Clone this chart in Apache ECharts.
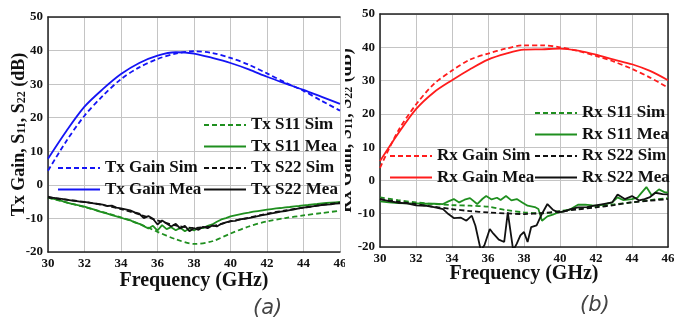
<!DOCTYPE html>
<html>
<head>
<meta charset="utf-8">
<script src="https://cdn.jsdelivr.net/npm/echarts@6/dist/echarts.min.js"></script>
<style>
  html, body { margin: 0; padding: 0; background: #fff; }
  #tx { position: absolute; left: 0; top: 0; width: 345px; height: 322px; }
  #rx { position: absolute; left: 345px; top: 0; width: 329px; height: 322px; }
</style>
</head>
<body>
<div id="tx"></div>
<div id="rx"></div>
<script>
// frequency grids (GHz)
const simFreq = [30, 31, 32, 33, 34, 35, 36, 37, 38, 39, 40, 41, 42, 43, 44, 45, 46];
const txMeaFreq = [
  30, 30.25, 30.5, 30.75, 31, 31.25, 31.5, 31.75, 32, 32.25, 32.5, 32.75, 33, 33.25, 33.5, 33.75,
  34, 34.25, 34.5, 34.75, 35, 35.25, 35.5, 35.75, 36, 36.25, 36.5, 36.75, 37, 37.25, 37.5, 37.75,
  38, 38.25, 38.5, 38.75, 39, 39.25, 39.5, 39.75, 40, 40.25, 40.5, 40.75, 41, 41.25, 41.5, 41.75,
  42, 42.25, 42.5, 42.75, 43, 43.25, 43.5, 43.75, 44, 44.25, 44.5, 44.75, 45, 45.25, 45.5, 45.75, 46
];

// (a) Tx
const txGainSim = [4.2, 13, 20.6, 26.5, 31.5, 35, 37.5, 39.1, 39.8, 39.3, 37.8, 35.8, 33.2, 30.5, 28, 25, 22.1];
const txGainMea = [7.8, 16, 23.3, 28.5, 33, 36.3, 38.5, 39.5, 39.1, 37.8, 36.3, 34.4, 32.2, 30.2, 28.3, 26.2, 24.1];
const txS11Sim = [-3.8, -5.2, -6.6, -8.1, -9.7, -11.6, -14.0, -16.2, -17.6, -16.8, -14.5, -12.4, -10.9, -9.9, -9.1, -8.4, -7.7];
const txS22Sim = [-3.8, -4.4, -5.1, -6.0, -7.2, -8.8, -10.6, -12.1, -12.8, -12.3, -10.9, -9.8, -8.6, -7.6, -6.8, -6.0, -5.3];
const txS11Mea = [
  -3.8, -4.1, -4.4, -4.8, -5.2, -5.6, -5.9, -6.2, -6.5, -6.9, -7.3, -7.8, -8.2, -8.6, -9.0, -9.4,
  -9.8, -10.2, -10.5, -11.2, -11.6, -12.3, -13.0, -12.2, -13.6, -12.0, -13.2, -12.6, -13.5, -12.8, -13.8, -13.0,
  -13.6, -12.8, -12.9, -12.2, -11.8, -11.0, -10.3, -9.9, -9.4, -9.1, -8.8, -8.5, -8.3, -8.0, -7.8, -7.6,
  -7.4, -7.2, -7.0, -6.9, -6.7, -6.6, -6.4, -6.3, -6.1, -6.0, -5.8, -5.7, -5.5, -5.4, -5.3, -5.2, -5.1
];
const txS22Mea = [
  -3.5, -3.8, -4.0, -4.2, -4.4, -4.6, -4.8, -5.0, -5.1, -5.3, -5.5, -5.7, -5.9, -6.3, -6.2, -6.8,
  -7.0, -7.3, -7.6, -8.2, -8.6, -9.9, -9.3, -10.1, -11.8, -10.6, -11.5, -12.4, -11.6, -13.0, -12.2, -13.8,
  -12.9, -13.4, -12.5, -12.9, -12.1, -12.4, -11.6, -11.2, -10.8, -10.7, -10.3, -10.1, -9.9, -9.6, -9.3, -9.0,
  -8.8, -8.5, -8.3, -8.0, -7.8, -7.5, -7.3, -7.0, -6.8, -6.6, -6.4, -6.2, -6.0, -5.9, -5.8, -5.6, -5.5
];

// (b) Rx
const rxGainSim = [3.8, 14.8, 22.8, 29, 33, 36.3, 38.1, 39.6, 40.6, 40.6, 40.0, 38.9, 37.4, 35.7, 33.5, 30.9, 27.9];
const rxGainMea = [5.8, 14, 21.4, 26.5, 30.1, 33.4, 36.3, 38.1, 39.3, 39.4, 39.6, 39.0, 37.8, 36.3, 34.9, 32.9, 30.1];
const rxS11Sim = [-5.1, -5.9, -6.6, -7.1, -7.4, -7.6, -7.9, -8.9, -9.6, -9.9, -9.2, -8.5, -7.9, -7.2, -6.6, -5.9, -5.3];
const rxS22Sim = [-5.6, -6.4, -7.1, -7.9, -8.6, -9.2, -9.6, -9.9, -10.1, -9.8, -9.3, -8.7, -8.1, -7.4, -6.6, -6.1, -5.6];
const rxS11MeaFreq = [30, 30.5, 31, 31.5, 32, 32.5, 33, 33.5, 33.8, 34.1, 34.4, 34.7, 35, 35.4, 35.7, 35.9, 36.2, 36.5, 36.7, 37, 37.3, 37.6, 37.9, 38.2, 38.6, 38.8, 39.0, 39.3, 39.6, 39.9, 40.2, 40.6, 41.0, 41.4, 41.8, 42.1, 42.5, 42.9, 43.2, 43.5, 44, 44.3, 44.5, 44.8, 45.1, 45.5, 45.8, 46];
const rxS11Mea = [-6.3, -6.6, -6.8, -6.9, -6.9, -7.0, -7.0, -7.1, -6.3, -5.6, -6.6, -5.8, -5.3, -7.1, -5.5, -4.7, -5.7, -5.2, -5.9, -4.7, -6.0, -5.6, -6.6, -7.6, -8.0, -8.6, -12.1, -10.8, -10.3, -9.6, -9.3, -8.6, -7.3, -7.3, -7.5, -7.6, -7.2, -6.6, -5.1, -5.9, -5.6, -5.2, -3.9, -2.0, -4.5, -2.7, -3.5, -3.7];
const rxS22MeaFreq = [30, 30.5, 31, 31.5, 32, 32.5, 33, 33.5, 33.8, 34.1, 34.5, 34.8, 35.1, 35.3, 35.6, 35.8, 36.1, 36.3, 36.6, 36.9, 37.1, 37.4, 37.6, 37.8, 38.0, 38.2, 38.4, 38.7, 39.0, 39.3, 39.6, 39.9, 40.2, 40.6, 41.0, 41.5, 41.9, 42.4, 42.9, 43.2, 43.6, 44.0, 44.4, 44.7, 45.0, 45.3, 45.7, 46];
const rxS22Mea = [-5.6, -6.2, -6.7, -6.9, -7.5, -7.6, -8.0, -8.6, -10.1, -11.3, -11.2, -12.1, -10.6, -13.6, -21, -19.5, -14.6, -16.0, -17.8, -18.5, -9.6, -21, -19.0, -16.5, -15.5, -18.5, -14.0, -13.5, -10.0, -7.1, -8.8, -9.6, -9.4, -8.6, -8.1, -8.0, -7.6, -7.1, -6.6, -4.2, -5.6, -4.7, -6.0, -5.6, -5.0, -3.7, -4.1, -4.2];

const BLUE = '#1414f5';
const RED = '#ff1c1c';
const GREEN = '#1f8f1f';
const BLACK = '#111';
const SERIF = '"Liberation Serif", "Times New Roman", serif';

const zip = (xs, ys) => xs.map((x, i) => [x, ys[i]]);

function line(name, xs, ys, color, dashed) {
  return {
    type: 'line',
    name,
    data: zip(xs, ys),
    symbol: 'none',
    smooth: dashed ? 0.3 : false,
    lineStyle: { color, width: 1.8, type: dashed ? [5, 3] : 'solid' },
    itemStyle: { color },
    clip: true,
  };
}

function legend(names, left, top) {
  return {
    data: names,
    orient: 'vertical',
    left, top,
    padding: 0,
    itemWidth: 42,
    itemHeight: 14,
    itemGap: 3.5,
    itemStyle: { opacity: 0 },
    textStyle: { fontFamily: SERIF, fontWeight: 'bold', fontSize: 17, lineHeight: 18, color: '#111' },
  };
}

function baseOption(grid, prefix, xGap, yGap) {
  const axisLine = { show: true, onZero: false, lineStyle: { color: '#222', width: 1.5 } };
  const label = { fontFamily: SERIF, fontWeight: 'bold', fontSize: 13, color: '#111' };
  grid.outerBoundsMode = 'none';
  grid.containLabel = false;
  return {
    animation: false,
    backgroundColor: '#fff',
    grid,
    xAxis: [{
      type: 'value', min: 30, max: 46, interval: 2,
      name: 'Frequency (GHz)', nameLocation: 'middle', nameGap: xGap, nameMoveOverlap: false,
      nameTextStyle: { fontFamily: SERIF, fontWeight: 'bold', fontSize: 20, color: '#111' },
      axisLine, axisTick: { show: false },
      axisLabel: Object.assign({ margin: 5 }, label),
      splitLine: { show: true, lineStyle: { color: '#c4c4c4', width: 1 } },
    }, {
      type: 'value', min: 30, max: 46, position: 'top',
      axisLine, axisTick: { show: false }, axisLabel: { show: false }, splitLine: { show: false },
    }],
    yAxis: {
      type: 'value', min: -20, max: 50, interval: 10,
      name: '{n|' + prefix + ' Gain, S}{s|11}{n|, S}{s|22}{n| (dB)}',
      nameLocation: 'middle', nameGap: yGap, nameMoveOverlap: false,
      nameTextStyle: {
        color: '#111',
        rich: {
          n: { fontFamily: SERIF, fontWeight: 'bold', fontSize: 18, color: '#111' },
          s: { fontFamily: SERIF, fontWeight: 'bold', fontSize: 12, color: '#111', verticalAlign: 'bottom', padding: [6, 0, 0, 0] },
        },
      },
      axisLine, axisTick: { show: false },
      axisLabel: Object.assign({ margin: 5 }, label),
      splitLine: { show: true, lineStyle: { color: '#c4c4c4', width: 1 } },
    },
  };
}

// (a) Tx chart
const tx = echarts.init(document.getElementById('tx'));
const txOpt = baseOption({ left: 48, right: 5, top: 17, bottom: 70 }, 'Tx', 19, 20);
txOpt.legend = [
  legend(['Tx S11 Sim', 'Tx S11 Mea', 'Tx S22 Sim', 'Tx S22 Mea'], 203, 116),
  legend(['Tx Gain Sim', 'Tx Gain Mea'], 57, 159),
];
txOpt.series = [
  line('Tx Gain Sim', simFreq, txGainSim, BLUE, true),
  line('Tx Gain Mea', simFreq, txGainMea, BLUE, false),
  line('Tx S11 Sim', simFreq, txS11Sim, GREEN, true),
  line('Tx S11 Mea', txMeaFreq, txS11Mea, GREEN, false),
  line('Tx S22 Sim', simFreq, txS22Sim, BLACK, true),
  line('Tx S22 Mea', txMeaFreq, txS22Mea, BLACK, false),
];
txOpt.series[1].smooth = 0.3;
txOpt.graphic = [{
  type: 'text', left: 253, top: 298,
  style: { text: '(a)', font: 'italic 21px "DejaVu Sans"', fill: '#444' },
}];
tx.setOption(txOpt);

// (b) Rx chart
const rx = echarts.init(document.getElementById('rx'));
const rxOpt = baseOption({ left: 35, right: 6, top: 14, bottom: 75 }, 'Rx', 17, 25);
rxOpt.legend = [
  legend(['Rx S11 Sim', 'Rx S11 Mea', 'Rx S22 Sim', 'Rx S22 Mea'], 189, 104),
  legend(['Rx Gain Sim', 'Rx Gain Mea'], 44, 147),
];
rxOpt.yAxis = [rxOpt.yAxis, {
  type: 'value', min: -20, max: 50, position: 'right',
  axisLine: { show: true, lineStyle: { color: '#222', width: 1.5 } },
  axisTick: { show: false }, axisLabel: { show: false }, splitLine: { show: false },
}];
rxOpt.series = [
  line('Rx Gain Sim', simFreq, rxGainSim, RED, true),
  line('Rx Gain Mea', simFreq, rxGainMea, RED, false),
  line('Rx S11 Sim', simFreq, rxS11Sim, GREEN, true),
  line('Rx S11 Mea', rxS11MeaFreq, rxS11Mea, GREEN, false),
  line('Rx S22 Sim', simFreq, rxS22Sim, BLACK, true),
  line('Rx S22 Mea', rxS22MeaFreq, rxS22Mea, BLACK, false),
];
rxOpt.series[1].smooth = 0.3;
rxOpt.graphic = [{
  type: 'text', left: 235, top: 295,
  style: { text: '(b)', font: 'italic 21px "DejaVu Sans"', fill: '#444' },
}];
rx.setOption(rxOpt);
</script>
</body>
</html>
